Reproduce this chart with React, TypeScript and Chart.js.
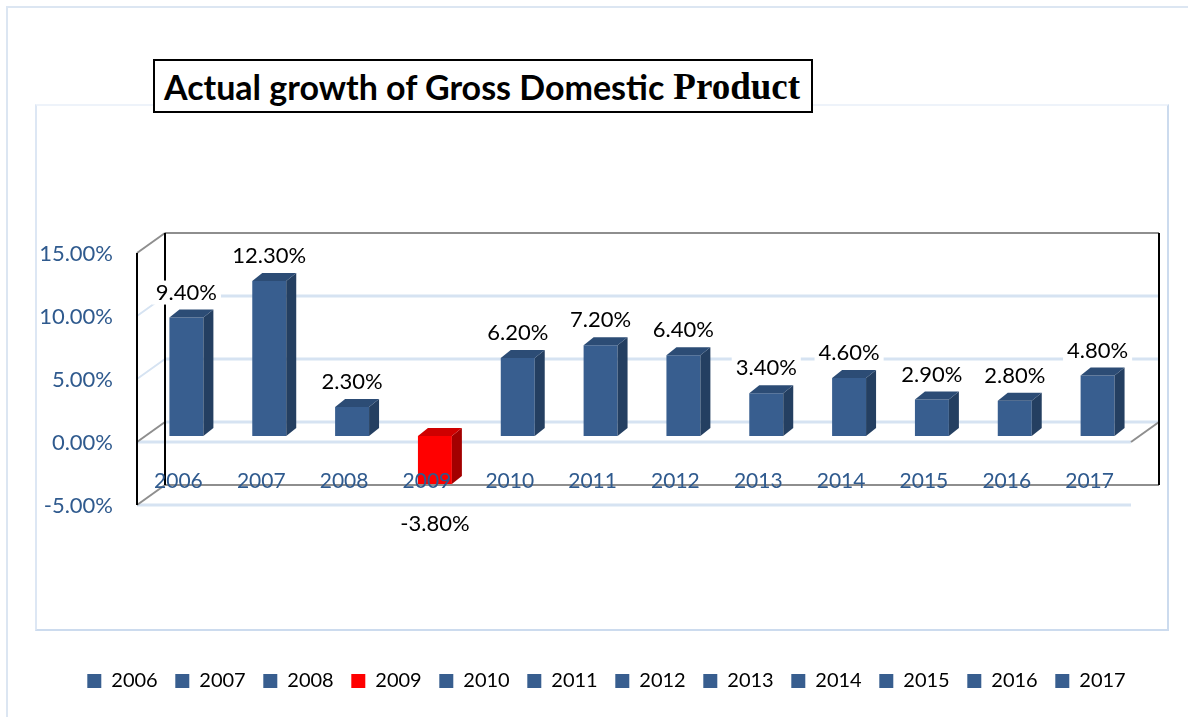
import React, { useEffect, useRef } from 'react';
import { Chart, registerables } from 'chart.js';

Chart.register(...registerables);

// ---- data ----
const categories = ['2006', '2007', '2008', '2009', '2010', '2011', '2012', '2013', '2014', '2015', '2016', '2017'];
const growth = [9.4, 12.3, 2.3, -3.8, 6.2, 7.2, 6.4, 3.4, 4.6, 2.9, 2.8, 4.8];
const yTicks = [-5, 0, 5, 10, 15];
const titleMain = 'Actual growth of Gross Domestic';
const titleTail = 'Product';

// ---- style ----
const BLUE = { front: '#385E8F', side: '#243F61', top: '#2C4C75' };
const RED = { front: '#FF0000', side: '#A30000', top: '#CF0000' };
const pal = (v: number) => (v < 0 ? RED : BLUE);
const FRONT = { dx: -8, dy: 6 };
const BACK = { dx: 20, dy: -14 };
const DEPTH = { dx: 10, dy: -8 };
const GRID = '#D6E3F2';
const EDGE = '#8E8E8E';
const AXIS_BLUE = '#2F5A8E';
const FONT = 'Lato, "Open Sans", sans-serif';

const fmt = (v: number) => v.toFixed(2) + '%';

const wallsPlugin = {
  id: 'walls3d',
  beforeDatasetsDraw(chart: any) {
    const { ctx, chartArea: a, scales } = chart;
    const y = scales.y;
    const min = yTicks[0];
    const max = yTicks[yTicks.length - 1];
    const fl = a.left + FRONT.dx;
    const fr = a.right + FRONT.dx;
    const bl = a.left + BACK.dx;
    const br = a.right + BACK.dx;
    const line = (x1: number, y1: number, x2: number, y2: number, color: string, w = 2) => {
      ctx.beginPath();
      ctx.strokeStyle = color;
      ctx.lineWidth = w;
      ctx.moveTo(x1, y1);
      ctx.lineTo(x2, y2);
      ctx.stroke();
    };
    ctx.save();
    const p0 = y.getPixelForValue(0);
    const pmin = y.getPixelForValue(min);
    const pmax = y.getPixelForValue(max);
    line(fl, p0 + FRONT.dy, fr, p0 + FRONT.dy, GRID, 3);
    line(fl, pmin + FRONT.dy, fr, pmin + FRONT.dy, GRID, 3);
    yTicks.forEach((v) => {
      const p = y.getPixelForValue(v);
      const edge = v === min || v === max;
      line(bl, p + BACK.dy, br, p + BACK.dy, edge ? EDGE : GRID, edge ? 2 : 3);
      line(fl, p + FRONT.dy, bl, p + BACK.dy, edge || v === 0 ? EDGE : GRID, 2);
    });
    line(fr, p0 + FRONT.dy, br, p0 + BACK.dy, EDGE, 2);
    line(fl, pmax + FRONT.dy, fl, pmin + FRONT.dy, '#000', 2);
    line(bl, pmax + BACK.dy, bl, pmin + BACK.dy, '#000', 2);
    line(br, pmax + BACK.dy, br, pmin + BACK.dy, '#000', 2);
    ctx.restore();
  },
  afterDatasetsDraw(chart: any) {
    const { ctx } = chart;
    const meta = chart.getDatasetMeta(0);
    const poly = (pts: number[][], color: string) => {
      ctx.beginPath();
      ctx.moveTo(pts[0][0], pts[0][1]);
      for (let k = 1; k < pts.length; k++) ctx.lineTo(pts[k][0], pts[k][1]);
      ctx.closePath();
      ctx.fillStyle = color;
      ctx.fill();
    };
    ctx.save();
    meta.data.forEach((bar: any, i: number) => {
      const { x, y, base, width } = bar.getProps(['x', 'y', 'base', 'width'], true);
      const left = x - width / 2;
      const right = x + width / 2;
      const top = Math.min(y, base);
      const bottom = Math.max(y, base);
      const c = pal(growth[i]);
      poly([[right, top], [right + DEPTH.dx, top + DEPTH.dy], [right + DEPTH.dx, bottom + DEPTH.dy], [right, bottom]], c.side);
      poly([[left, top], [right, top], [right + DEPTH.dx, top + DEPTH.dy], [left + DEPTH.dx, top + DEPTH.dy]], c.top);
    });
    ctx.font = `22px ${FONT}`;
    ctx.textAlign = 'center';
    ctx.textBaseline = 'middle';
    meta.data.forEach((bar: any, i: number) => {
      const { x, y } = bar.getProps(['x', 'y'], true);
      const v = growth[i];
      const txt = fmt(v);
      const cy = v >= 0 ? y - 25 : y + 40;
      const w = ctx.measureText(txt).width + 8;
      ctx.fillStyle = '#fff';
      ctx.fillRect(x - w / 2, cy - 12, w, 24);
      ctx.fillStyle = '#000';
      ctx.fillText(txt, x, cy);
    });
    ctx.restore();
  },
};

export default function App() {
  const ref = useRef<HTMLCanvasElement>(null);
  useEffect(() => {
    if (!ref.current) return;
    const chart = new Chart(ref.current, {
      type: 'bar',
      data: {
        labels: categories,
        datasets: [
          {
            label: 'Actual growth of GDP',
            data: growth,
            backgroundColor: growth.map((v) => pal(v).front),
            borderWidth: 0,
            barPercentage: 0.41,
            categoryPercentage: 1,
          },
        ],
      },
      options: {
        responsive: false,
        animation: false,
        devicePixelRatio: 1,
        layout: { padding: { left: 36, right: 11, top: 247, bottom: 16 } },
        plugins: {
          tooltip: { enabled: false },
          title: { display: false },
          legend: {
            position: 'bottom',
            onClick: () => {},
            labels: {
              boxWidth: 14,
              boxHeight: 14,
              padding: 17.6,
              color: '#000',
              font: { family: FONT, size: 20 },
              generateLabels: () =>
                categories.map((c, i) => ({
                  text: c,
                  fillStyle: pal(growth[i]).front,
                  strokeStyle: pal(growth[i]).front,
                  lineWidth: 0,
                  hidden: false,
                  index: i,
                  datasetIndex: 0,
                })),
            },
          },
        },
        scales: {
          x: {
            z: 1,
            grid: { display: false, drawTicks: false },
            border: { display: false },
            ticks: {
              z: 1,
              color: AXIS_BLUE,
              font: { family: FONT, size: 21 },
              mirror: true,
              padding: 5,
              labelOffset: -8,
            },
            afterFit: (s: any) => {
              s.height = 154.4;
            },
          },
          y: {
            min: yTicks[0],
            max: yTicks[yTicks.length - 1],
            grid: { display: false, drawTicks: false },
            border: { display: false },
            afterBuildTicks: (s: any) => {
              s.ticks = yTicks.map((v) => ({ value: v }));
            },
            ticks: {
              color: AXIS_BLUE,
              font: { family: FONT, size: 22 },
              padding: 32,
              labelOffset: 7,
              callback: (v: any) => fmt(Number(v)),
            },
            afterFit: (s: any) => {
              s.width = 109;
            },
          },
          yR: {
            position: 'right',
            display: true,
            grid: { display: false, drawTicks: false },
            border: { display: false },
            ticks: { display: false },
            afterFit: (s: any) => {
              s.width = 38;
            },
          },
        },
      },
      plugins: [wallsPlugin],
    } as any);
    return () => chart.destroy();
  }, []);

  return (
    <div style={{ position: 'absolute', left: 0, top: 0, width: 1188, height: 717, background: '#fff', overflow: 'hidden' }}>
      <div
        style={{
          position: 'absolute',
          left: 6,
          top: 6,
          width: 1200,
          height: 730,
          border: '2px solid #DCE6F2',
          boxSizing: 'border-box',
        }}
      />
      <div
        style={{
          position: 'absolute',
          left: 35,
          top: 104,
          width: 1134,
          height: 527,
          border: '2px solid #CCDBEE',
          borderTopColor: '#EEF3FA',
          borderLeftColor: '#DDE7F4',
          boxSizing: 'border-box',
        }}
      />
      <canvas ref={ref} width={1188} height={717} style={{ position: 'absolute', left: 0, top: 0 }} />
      <div
        style={{
          position: 'absolute',
          left: 153,
          top: 59,
          width: 660,
          height: 54,
          border: '2px solid #000',
          boxSizing: 'border-box',
          background: '#fff',
          display: 'flex',
          alignItems: 'center',
          paddingLeft: 9,
          whiteSpace: 'nowrap',
          color: '#000',
        }}
      >
        <span style={{ fontFamily: FONT, fontWeight: 700, fontSize: 34 }}>{titleMain}</span>
        <span style={{ fontFamily: '"Liberation Serif", serif', fontWeight: 700, fontSize: 37, marginLeft: 9 }}>{titleTail}</span>
      </div>
    </div>
  );
}
